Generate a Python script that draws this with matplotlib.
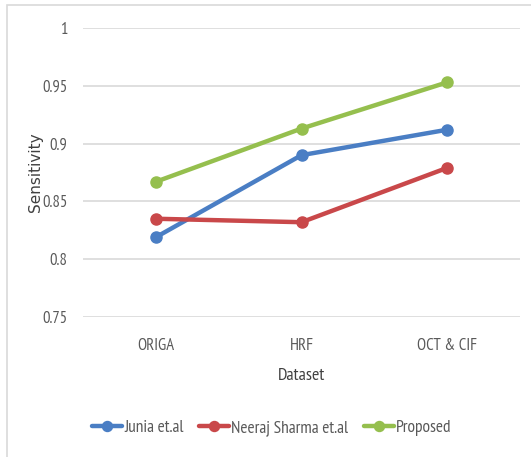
import numpy as np
import matplotlib.pyplot as plt
from matplotlib.patches import Rectangle

datasets = ['ORIGA', 'HRF', 'OCT & CIF']
junia = [0.819, 0.890, 0.912]
neeraj = [0.835, 0.832, 0.879]
proposed = [0.867, 0.913, 0.953]
yticks = [0.75, 0.8, 0.85, 0.9, 0.95, 1.0]
ytick_labels = ['0.75', '0.8', '0.85', '0.9', '0.95', '1']

plt.rcParams['font.family'] = ['PT Sans Narrow', 'DejaVu Sans']

W, H = 531, 457
fig = plt.figure(figsize=(W/100, H/100), dpi=100)
ax = fig.add_axes([83/W, 1 - 317/H, (520-83)/W, (317-28)/H])

x = np.arange(len(datasets))
series = [(junia, '#4a7ec4', 'Junia et.al'),
          (neeraj, '#c9484a', 'Neeraj Sharma et.al'),
          (proposed, '#95bf4e', 'Proposed')]
for vals, c, lab in series:
    ax.plot(x, vals, color=c, lw=3.2, marker='o', ms=8, label=lab,
            solid_capstyle='round')

ax.set_xlim(-0.5, 2.5)
ax.set_ylim(0.75, 1.0)
ax.set_yticks(yticks)
ax.set_yticklabels(ytick_labels)
ax.set_xticks(x)
ax.set_xticklabels(datasets)
ax.grid(axis='y', color='#d9d9d9', lw=1.2)
ax.set_axisbelow(True)
for s in ax.spines.values():
    s.set_visible(False)
ax.tick_params(length=0, labelsize=12, colors='#595959')
ax.tick_params(axis='y', pad=11)
ax.tick_params(axis='x', pad=15)

ax.set_xlabel('Dataset', fontsize=13, color='#404040', labelpad=10)
fig.text(35/W, 1 - 172/H, 'Sensitivity', rotation=90, ha='center', va='center',
         fontsize=11, color='#404040', family='DejaVu Sans')

leg = fig.legend(loc='center', bbox_to_anchor=(272/W, 1 - 428/H), ncol=3,
                 frameon=False, fontsize=12.5, handlelength=1.7,
                 handletextpad=0.15, columnspacing=0.9, markerscale=0.9)
for t in leg.get_texts():
    t.set_color('#595959')

fig.patches.append(Rectangle((7/W, -0.01), 1, 1 - 5/H + 0.01, transform=fig.transFigure,
                             fill=False, ec='#d9d9d9', lw=1.2))

fig.savefig('out.png', dpi=100)
